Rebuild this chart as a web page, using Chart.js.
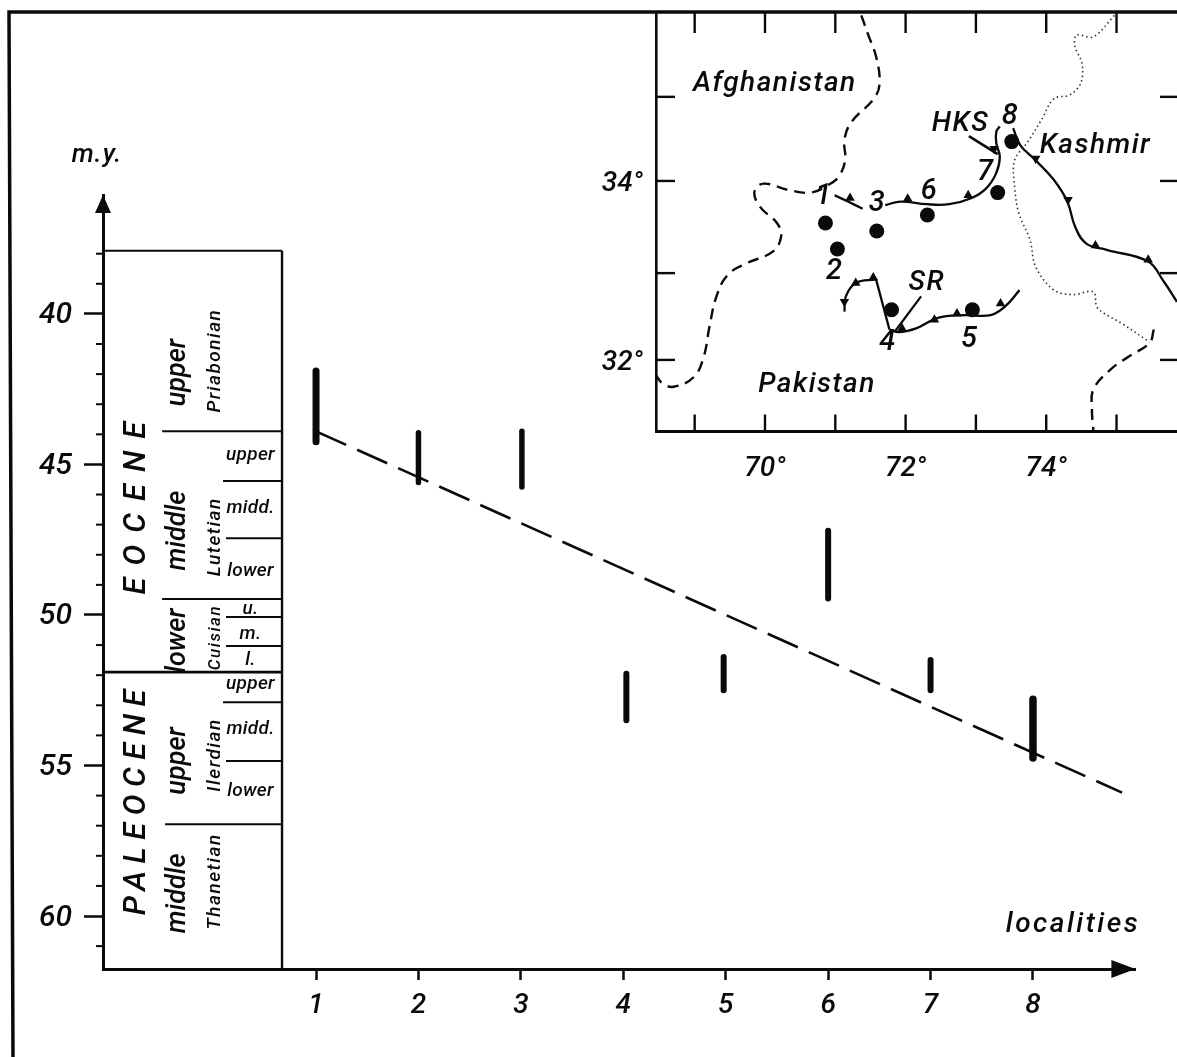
<!DOCTYPE html>
<html>
<head>
<meta charset="utf-8">
<title>Localities and ages</title>
<script src="https://cdn.jsdelivr.net/npm/chart.js@4"></script>
<style>
  html, body { margin: 0; padding: 0; background: #fff; overflow: hidden; }
  #wrap { position: relative; width: 1177px; height: 1057px; }
  canvas { position: absolute; left: 0; top: 0; }
</style>
</head>
<body>
<div id="wrap">
  <canvas id="main" width="1177" height="1057"></canvas>
  <canvas id="map" width="1177" height="1057"></canvas>
</div>
<script>
// ---- age ranges per locality (m.y.) ----
const localityTicks = [1, 2, 3, 4, 5, 6, 7, 8];
const localityX     = [1, 2, 3.01, 4.03, 4.98, 6, 7, 8];
const rangeYoung    = [41.9, 43.95, 43.9, 51.95, 51.4, 47.2, 51.5, 52.8];
const rangeOld      = [44.25, 45.6, 45.75, 53.5, 52.5, 49.45, 52.5, 54.75];
const trendX        = [1, 8.87];
const trendAge      = [43.9, 55.9];
const ageMajorTicks = [40, 45, 50, 55, 60];
const ageMinorTicks = [38, 39, 41, 42, 43, 44, 46, 47, 48, 49, 51, 52, 53, 54, 56, 57, 58, 59, 61];

// ---- stratigraphic column ----
const columnRight    = 0.668;
const columnTop      = 37.9;
const boundaryAges   = [43.9, 45.55, 47.45, 49.47, 50.07, 51.03, 52.9, 54.85, 56.95];
const boundaryStarts = [-0.503, 0.092, 0.121, -0.503, 0.121, 0.121, 0.092, 0.121, -0.474];
const epochBoundary  = 51.9;

const eraNames    = ['EOCENE', 'PALEOCENE'];
const eraAges     = [46.25, 56.1];
const seriesNames = ['upper', 'middle', 'lower', 'upper', 'middle'];
const seriesAges  = [41.95, 47.2, 50.85, 54.85, 59.25];
const stageNames  = ['Priabonian', 'Lutetian', 'Cuisian', 'Ilerdian', 'Thanetian'];
const stageAges   = [41.55, 47.4, 50.75, 54.65, 58.85];
const subNames    = ['upper', 'midd.', 'lower', 'u.', 'm.', 'l.', 'upper', 'midd.', 'lower'];
const subAges     = [44.7, 46.45, 48.55, 49.8, 50.65, 51.5, 52.3, 53.8, 55.85];

// ---- map (lon / lat) ----
const siteLon = [70.86, 71.03, 71.59, 71.80, 72.95, 72.31, 73.31, 73.51];
const siteLat = [33.53, 33.24, 33.44, 32.56, 32.56, 33.62, 33.87, 34.44];
const siteLabelLon = [70.83, 70.98, 71.59, 71.74, 72.90, 72.33, 73.13, 73.48];
const siteLabelLat = [33.82, 32.98, 33.75, 32.19, 32.22, 33.88, 34.09, 34.72];

const westBorderLon = [71.37, 71.47, 71.58, 71.63, 71.55, 71.23, 71.13, 71.14, 71.05, 70.91, 70.65, 70.33, 69.98, 69.85, 69.93, 70.17, 70.23, 70.11, 69.74, 69.47, 69.31, 69.21, 69.13, 68.99, 68.70, 68.54, 68.45];
const westBorderLat = [35.85, 35.63, 35.39, 35.09, 34.92, 34.66, 34.46, 34.23, 34.05, 33.96, 33.87, 33.90, 33.97, 33.88, 33.71, 33.53, 33.38, 33.21, 33.08, 32.95, 32.71, 32.37, 32.04, 31.81, 31.70, 31.74, 31.83];
const eastBorderLon = [75.53, 75.47, 75.18, 74.91, 74.67, 74.65, 74.67];
const eastBorderLat = [32.34, 32.19, 32.04, 31.89, 31.67, 31.45, 31.21];
const kashmirLon = [74.97, 74.67, 74.43, 74.41, 74.51, 74.49, 74.33, 74.11, 73.93, 73.74, 73.55, 73.55, 73.61, 73.77, 73.85, 74.11, 74.38, 74.67, 74.73, 75.07, 75.47];
const kashmirLat = [35.85, 35.61, 35.63, 35.50, 35.31, 35.09, 34.96, 34.92, 34.68, 34.44, 34.23, 33.94, 33.64, 33.34, 33.04, 32.78, 32.73, 32.76, 32.58, 32.41, 32.20];

const thrustALon = [70.99, 71.18, 71.39];
const thrustALat = [33.84, 33.77, 33.69];
const thrustBLon = [71.71, 71.93, 72.30, 72.62, 72.94, 73.15, 73.29, 73.34, 73.29, 73.29, 73.34];
const thrustBLat = [33.73, 33.77, 33.74, 33.74, 33.81, 33.92, 34.09, 34.27, 34.42, 34.55, 34.61];
const thrustCLon = [73.53, 73.63, 73.85, 74.11, 74.30, 74.41, 74.57, 74.86, 75.45, 75.66, 75.86];
const thrustCLat = [34.59, 34.40, 34.23, 34.01, 33.77, 33.49, 33.30, 33.23, 33.10, 32.89, 32.65];
const thrustDLon = [71.13, 71.15, 71.29, 71.58];
const thrustDLat = [32.54, 32.71, 32.86, 32.90];
const thrustELon = [71.58, 71.77];
const thrustELat = [32.90, 32.34];
const thrustFLon = [71.77, 71.90, 72.14, 72.46, 72.83, 73.21, 73.42, 73.62];
const thrustFLat = [32.34, 32.31, 32.35, 32.47, 32.50, 32.50, 32.60, 32.78];

const toothLon = [71.21, 72.03, 72.89, 73.26, 73.85, 74.31, 74.70, 75.45, 71.29, 71.54, 71.13, 71.95, 72.41, 72.73, 73.35];
const toothLat = [33.81, 33.80, 33.84, 34.36, 34.25, 33.79, 33.28, 33.12, 32.86, 32.92, 32.65, 32.35, 32.45, 32.52, 32.63];
const toothTurn = [0, 0, 0, 180, 180, 180, 0, 0, 0, 0, 180, 0, 0, 0, 0];

const leaderSrLon = [72.22, 71.85];
const leaderSrLat = [32.71, 32.32];
const leaderHksLon = [72.90, 73.31];
const leaderHksLat = [34.50, 34.30];

const placeNames = ['Afghanistan', 'Pakistan', 'Kashmir', 'HKS', 'SR'];
const placeLon   = [70.14, 70.74, 74.70, 72.78, 72.30];
const placeLat   = [35.08, 31.72, 34.39, 34.64, 32.86];

const lonLabels = [70, 72, 74];
const latLabels = [32, 34];
const lonTicks  = [69, 70, 71, 72, 73, 74, 75, 76];
const latTicks  = [34.94, 34, 32.97, 32];

const FAMILY = 'Roboto, "Liberation Sans", sans-serif';
const INK = '#0a0a0a';
const BAR_WIDTHS = [7, 5.5, 5.5, 6, 6, 6, 6, 7.5];
const ERA_SPACING = [12, 7.5];

const zip = (xs, ys) => xs.map((x, i) => ({ x, y: ys[i] }));

function lineSet(points, width, extra) {
  return Object.assign({
    data: points, showLine: true, pointRadius: 0,
    borderColor: INK, borderWidth: width, tension: 0,
  }, extra || {});
}

function drawText(ctx, text, x, y, size, spacing, rotate) {
  ctx.save();
  ctx.translate(x, y);
  if (rotate) ctx.rotate(-Math.PI / 2);
  ctx.font = `italic 500 ${size}px ${FAMILY}`;
  ctx.letterSpacing = `${spacing || 0}px`;
  ctx.fillStyle = INK;
  ctx.textAlign = 'center';
  ctx.textBaseline = 'middle';
  ctx.fillText(text, 0, 0);
  ctx.restore();
}

// chart.js reserves room for half a tick label; drop that so the plot area sits exactly
function noLabelPadding(s) {
  s.paddingTop = 0; s.paddingBottom = 0; s.paddingLeft = 0; s.paddingRight = 0;
}

// ---- MAIN CHART ----
const columnPlugin = {
  id: 'column',
  afterDraw(chart) {
    const ctx = chart.ctx;
    const sx = chart.scales.x, sy = chart.scales.y;

    // minor age ticks
    ctx.strokeStyle = INK;
    ctx.lineWidth = 2;
    ageMinorTicks.forEach(v => {
      const py = sy.getPixelForValue(v);
      ctx.beginPath(); ctx.moveTo(sx.left - 7, py); ctx.lineTo(sx.left, py); ctx.stroke();
    });

    // axis arrow heads
    ctx.fillStyle = INK;
    ctx.beginPath();
    ctx.moveTo(sx.left, sy.top); ctx.lineTo(sx.left - 8, sy.top + 18); ctx.lineTo(sx.left + 8, sy.top + 18);
    ctx.closePath(); ctx.fill();
    ctx.beginPath();
    ctx.moveTo(sx.right, sy.bottom); ctx.lineTo(sx.right - 24, sy.bottom - 9); ctx.lineTo(sx.right - 24, sy.bottom + 9);
    ctx.closePath(); ctx.fill();

    // page frame
    ctx.lineWidth = 3.5;
    ctx.beginPath();
    ctx.moveTo(1177, 12); ctx.lineTo(9, 12); ctx.lineTo(13, 1057);
    ctx.stroke();

    eraNames.forEach((t, i) => drawText(ctx, t, sx.getPixelForValue(-0.748), sy.getPixelForValue(eraAges[i]), 31, ERA_SPACING[i], true));
    seriesNames.forEach((t, i) => drawText(ctx, t, sx.getPixelForValue(-0.347), sy.getPixelForValue(seriesAges[i]), 27, 0, true));
    stageNames.forEach((t, i) => drawText(ctx, t, sx.getPixelForValue(0.02), sy.getPixelForValue(stageAges[i]), i === 2 ? 17 : 19, 1.5, true));
    subNames.forEach((t, i) => drawText(ctx, t, sx.getPixelForValue(0.36), sy.getPixelForValue(subAges[i]), 19, 0.3, false));

    drawText(ctx, 'm.y.', 97, 155, 26, 1, false);
    drawText(ctx, 'localities', 1073, 925, 28, 2.5, false);
  }
};

const mainDatasets = [
  lineSet(zip(trendX, trendAge), 2.6, { borderDash: [33, 12] }),
  lineSet(zip([-1.08, columnRight], [columnTop, columnTop]), 2),
  lineSet(zip([columnRight, columnRight], [columnTop, 61.76]), 2.4),
  lineSet(zip([-1.08, columnRight], [epochBoundary, epochBoundary]), 2.6),
];
boundaryAges.forEach((age, i) => {
  mainDatasets.push(lineSet(zip([boundaryStarts[i], columnRight], [age, age]), 2));
});
localityX.forEach((x, i) => {
  mainDatasets.push(lineSet(zip([x, x], [rangeYoung[i], rangeOld[i]]), BAR_WIDTHS[i], { borderCapStyle: 'round' }));
});

new Chart(document.getElementById('main'), {
  type: 'scatter',
  data: { datasets: mainDatasets },
  plugins: [columnPlugin],
  options: {
    responsive: false,
    devicePixelRatio: 1,
    animation: false,
    events: [],
    layout: { autoPadding: false, padding: { left: 23, top: 195, right: 41.6, bottom: 38 } },
    plugins: { legend: { display: false }, tooltip: { enabled: false } },
    scales: {
      x: {
        type: 'linear', min: -1.08, max: 9,
        afterFit: s => { s.height = 50; noLabelPadding(s); },
        afterBuildTicks: s => { s.ticks = localityTicks.map(value => ({ value })); },
        grid: { drawOnChartArea: false, tickLength: 11, tickColor: INK, tickWidth: 2.5 },
        border: { color: INK, width: 3 },
        ticks: { color: INK, padding: 9, maxRotation: 0, autoSkip: false, font: { family: FAMILY, size: 28, style: 'italic', weight: '500' } },
      },
      y: {
        type: 'linear', reverse: true, min: 36.05, max: 61.76,
        afterFit: s => { s.width = 80; noLabelPadding(s); },
        afterBuildTicks: s => { s.ticks = ageMajorTicks.map(value => ({ value })); },
        grid: { drawOnChartArea: false, tickLength: 19, tickColor: INK, tickWidth: 2.5 },
        border: { color: INK, width: 3 },
        ticks: { color: INK, padding: 12, labelOffset: 2, autoSkip: false, font: { family: FAMILY, size: 30, style: 'italic', weight: '500' } },
      },
    },
  },
});

// ---- MAP INSET ----
const mapPlugin = {
  id: 'mapText',
  afterDraw(chart) {
    const ctx = chart.ctx;
    const sx = chart.scales.x, sy = chart.scales.y;

    // inward frame ticks
    ctx.strokeStyle = INK;
    ctx.lineWidth = 2.4;
    lonTicks.forEach(v => {
      const px = sx.getPixelForValue(v);
      ctx.beginPath(); ctx.moveTo(px, sy.top); ctx.lineTo(px, sy.top + 20); ctx.stroke();
      ctx.beginPath(); ctx.moveTo(px, sy.bottom); ctx.lineTo(px, sy.bottom - 17); ctx.stroke();
    });
    latTicks.forEach(v => {
      const py = sy.getPixelForValue(v);
      ctx.beginPath(); ctx.moveTo(sx.left, py); ctx.lineTo(sx.left + 19, py); ctx.stroke();
      ctx.beginPath(); ctx.moveTo(sx.right, py); ctx.lineTo(sx.right - 17, py); ctx.stroke();
    });

    placeNames.forEach((t, i) => drawText(ctx, t, sx.getPixelForValue(placeLon[i]), sy.getPixelForValue(placeLat[i]), 28, 1.5, false));
    siteLabelLon.forEach((lon, i) => drawText(ctx, String(i + 1), sx.getPixelForValue(lon), sy.getPixelForValue(siteLabelLat[i]), 29, 0, false));
  }
};

const dashed = { borderDash: [11, 7], tension: 0.4 };
const curved = { tension: 0.4 };

const mapDatasets = [
  lineSet(zip(westBorderLon, westBorderLat), 2.4, dashed),
  lineSet(zip(eastBorderLon, eastBorderLat), 2.4, dashed),
  lineSet(zip(kashmirLon, kashmirLat), 1.6, { borderDash: [1.5, 3], borderColor: '#333', tension: 0.35 }),
  lineSet(zip(thrustALon, thrustALat), 2.3, curved),
  lineSet(zip(thrustBLon, thrustBLat), 2.3, curved),
  lineSet(zip(thrustCLon, thrustCLat), 2.3, curved),
  lineSet(zip(thrustDLon, thrustDLat), 2.3, curved),
  lineSet(zip(thrustELon, thrustELat), 2.3),
  lineSet(zip(thrustFLon, thrustFLat), 2.3, curved),
  lineSet(zip(leaderSrLon, leaderSrLat), 2.2),
  lineSet(zip(leaderHksLon, leaderHksLat), 2.6),
  {
    data: zip(toothLon, toothLat), showLine: false,
    pointStyle: 'triangle', pointRadius: 5.5, pointRotation: toothTurn,
    pointBackgroundColor: INK, pointBorderColor: INK, pointBorderWidth: 0,
  },
  {
    data: zip(siteLon, siteLat), showLine: false,
    pointStyle: 'circle', pointRadius: 7.5, pointBackgroundColor: INK, pointBorderColor: INK, pointBorderWidth: 0,
  },
];

new Chart(document.getElementById('map'), {
  type: 'scatter',
  data: { datasets: mapDatasets },
  plugins: [mapPlugin],
  options: {
    responsive: false,
    devicePixelRatio: 1,
    animation: false,
    events: [],
    layout: { autoPadding: false, padding: { left: 566, top: 13, right: 0, bottom: 575.5 } },
    plugins: { legend: { display: false }, tooltip: { enabled: false } },
    scales: {
      x: {
        type: 'linear', min: 68.45, max: 75.86,
        afterFit: s => { s.height = 50; noLabelPadding(s); },
        afterBuildTicks: s => { s.ticks = lonLabels.map(value => ({ value })); },
        grid: { display: false },
        border: { color: INK, width: 3 },
        ticks: { color: INK, padding: 13, maxRotation: 0, autoSkip: false, callback: v => v + '°', font: { family: FAMILY, size: 28, style: 'italic', weight: '500' } },
      },
      y: {
        type: 'linear', min: 31.2, max: 35.877,
        afterFit: s => { s.width = 90; noLabelPadding(s); },
        afterBuildTicks: s => { s.ticks = latLabels.map(value => ({ value })); },
        grid: { display: false },
        border: { color: INK, width: 2.6 },
        ticks: { color: INK, padding: 5, labelOffset: 3, autoSkip: false, callback: v => v + '°', font: { family: FAMILY, size: 28, style: 'italic', weight: '500' } },
      },
    },
  },
});
</script>
</body>
</html>
